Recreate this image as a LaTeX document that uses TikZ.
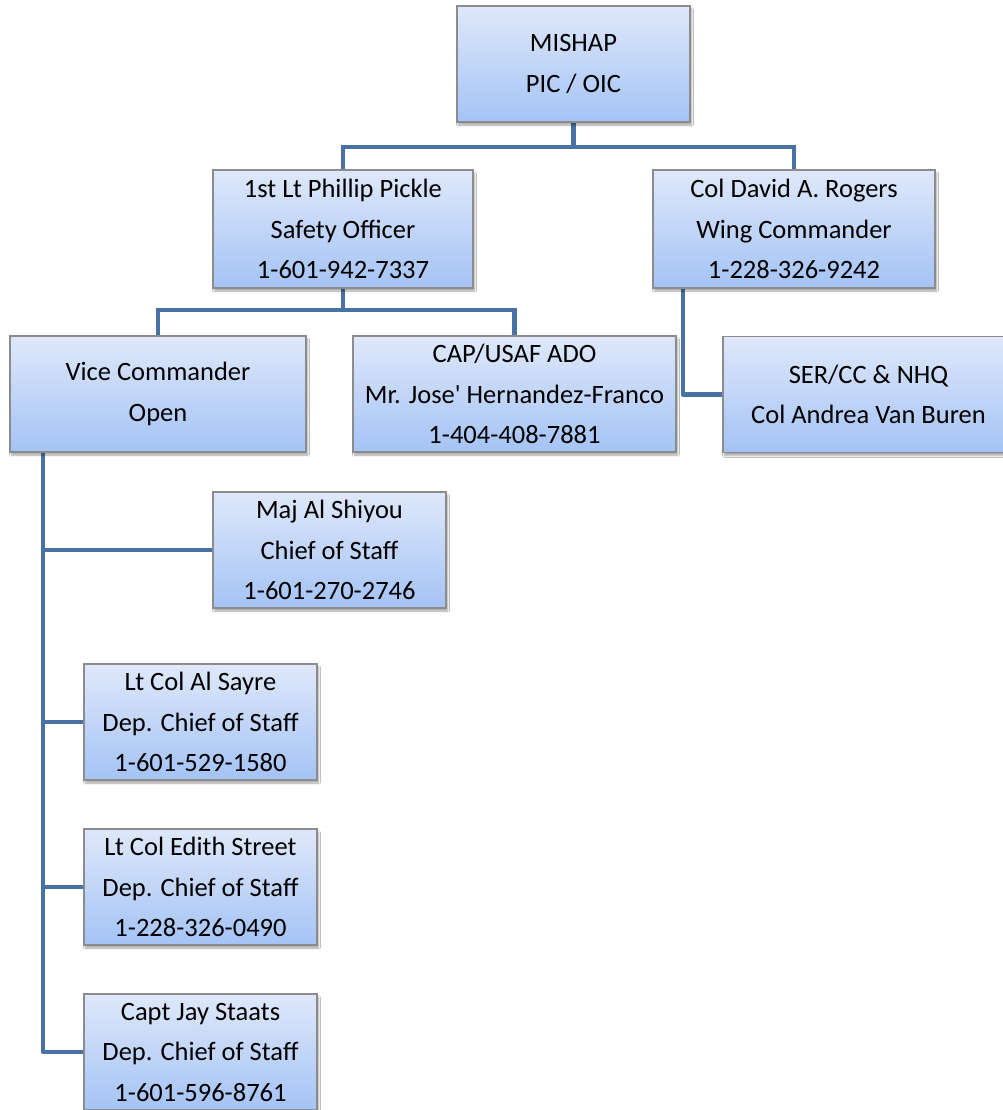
\documentclass[tikz,border=0pt]{standalone}
\usepackage{fontspec}
\setmainfont{Carlito}
\usetikzlibrary{calc,backgrounds,shadows.blur}
\definecolor{boxtop}{RGB}{223,232,250}
\definecolor{boxbot}{RGB}{164,195,245}
\definecolor{boxline}{RGB}{140,140,140}
\definecolor{connc}{RGB}{72,114,166}
\tikzset{
  orgbox/.style={draw=boxline, line width=1.2pt, top color=boxtop, bottom color=boxbot,
    inner sep=0pt, outer sep=0pt, align=center, minimum height=116pt,
    font=\fontsize{26.5}{40.5}\selectfont,
    blur shadow={shadow xshift=1.5pt, shadow yshift=-3pt, shadow blur steps=6, shadow opacity=35}},
  conn/.style={draw=connc, line width=4.3pt}
}
\begin{document}
\begin{tikzpicture}[x=1pt,y=-1pt]
\useasboundingbox (0,0) rectangle (1003,1110);
\node[orgbox, minimum width=233pt] (mishap) at (573.5,64) {MISHAP\\PIC / OIC};
\node[orgbox, minimum width=260pt, minimum height=118pt] (pickle) at (343,229) {1st Lt Phillip Pickle\\Safety Officer\\1-601-942-7337};
\node[orgbox, minimum width=282pt, minimum height=118pt] (rogers) at (794,229) {Col David A. Rogers\\Wing Commander\\1-228-326-9242};
\node[orgbox, minimum width=296pt] (vice) at (158,394) {Vice Commander\\Open};
\node[orgbox, minimum width=323pt] (ado) at (514.5,394) {CAP/USAF ADO\\Mr. Jose\textquotesingle{} Hernandez-Franco\\1-404-408-7881};
\node[orgbox, minimum width=291pt] (ser) at (868.5,394.5) {SER/CC \& NHQ\\Col Andrea Van Buren};
\node[orgbox, minimum width=233pt] (shiyou) at (329.5,550) {Maj Al Shiyou\\Chief of Staff\\1-601-270-2746};
\node[orgbox, minimum width=233pt] (sayre) at (200.5,722) {Lt Col Al Sayre\\Dep. Chief of Staff\\1-601-529-1580};
\node[orgbox, minimum width=233pt] (street) at (200.5,887) {Lt Col Edith Street\\Dep. Chief of Staff\\1-228-326-0490};
\node[orgbox, minimum width=233pt] (staats) at (200.5,1052) {Capt Jay Staats\\Dep. Chief of Staff\\1-601-596-8761};
\begin{scope}[on background layer]
\fill[white] (0,0) rectangle (1003,1110);
\coordinate (j1) at ($(mishap.south)+(0,25)$);
\draw[conn] (mishap.south) -- (j1);
\draw[conn] (pickle.north) |- (j1) -| (rogers.north);
\coordinate (j2) at ($(pickle.south)+(0,22)$);
\draw[conn] (pickle.south) -- (j2);
\draw[conn] (vice.north) |- (j2) -| (ado.north);
\coordinate (r1) at ($(rogers.south west)+(30,0)$);
\draw[conn, line join=round] (r1) |- (ser.west);
\coordinate (v1) at ($(vice.south west)+(33,0)$);
\draw[conn, line join=round] (v1) |- (staats.west);
\draw[conn] (v1) |- (shiyou.west);
\draw[conn] (v1) |- (sayre.west);
\draw[conn] (v1) |- (street.west);
\end{scope}
\end{tikzpicture}
\end{document}
